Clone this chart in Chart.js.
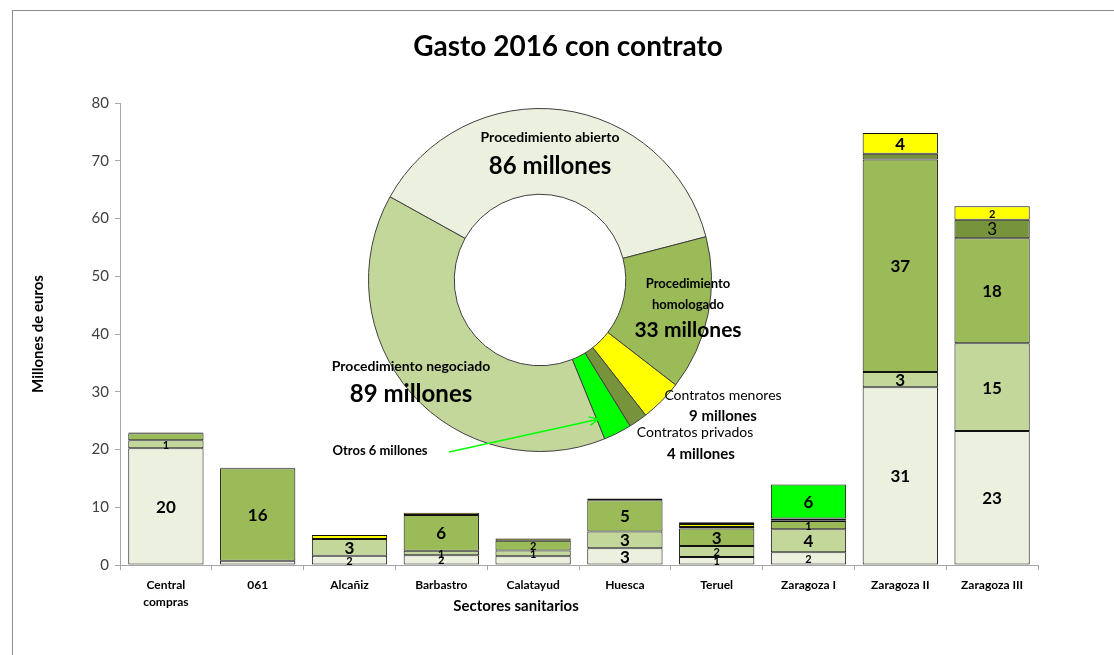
<!DOCTYPE html>
<html>
<head>
<meta charset="utf-8">
<title>Gasto 2016 con contrato</title>
<script src="https://cdn.jsdelivr.net/npm/chart.js@4.4.0/dist/chart.umd.min.js"></script>
<style>
  html, body { margin: 0; padding: 0; background: #fff; overflow: hidden; }
  #wrap { position: relative; width: 1114px; height: 655px; }
  #frame { position: absolute; left: 12px; top: 10px; width: 1200px; height: 700px;
           border: 1px solid #8c8c8c; box-sizing: border-box; }
  canvas { position: absolute; left: 0; top: 0; }
</style>
</head>
<body>
<div id="wrap">
  <div id="frame"></div>
  <canvas id="bars" width="1114" height="655"></canvas>
  <canvas id="ring" width="1114" height="655"></canvas>
</div>
<script>
// ---- Gasto por sector sanitario (millones de euros) ----
const sectores = [['Central', 'compras'], '061', 'Alcañiz', 'Barbastro', 'Calatayud',
                  'Huesca', 'Teruel', 'Zaragoza I', 'Zaragoza II', 'Zaragoza III'];
const abierto    = [20.2, 0.75, 1.6, 1.7, 1.5, 2.9, 1.4, 2.2, 30.8, 23.2];
const homologado = [1.4, null, 2.9, 0.75, 1.0, 2.9, 1.9, 4.0, 2.6, 15.2];
const negociado  = [1.2, 16.0, null, 6.2, 1.7, 5.4, 3.0, 1.4, 36.8, 18.2];
const privados   = [0.15, 0.1, null, null, null, null, 0.3, 0.15, 1.0, 3.2];
const menores    = [null, null, 0.7, 0.4, 0.4, 0.3, 0.5, 0.3, 3.6, 2.3];
const otros      = [null, null, null, null, null, null, 0.3, 5.9, null, null];
const yTicks     = [0, 10, 20, 30, 40, 50, 60, 70, 80];

// ---- Totales por tipo de contrato (millones de euros) ----
const tipos   = ['Procedimiento abierto', 'Procedimiento homologado', 'Contratos menores',
                 'Contratos privados', 'Otros', 'Procedimiento negociado'];
const totales = [86, 33, 9, 4, 6, 89];

// which segment values get a printed label: 0 none, 1 small, 2 large bold, 3 large regular
const labelStyle = {
  abierto:    [2, 0, 1, 1, 0, 2, 1, 1, 2, 2],
  homologado: [1, 0, 2, 1, 1, 2, 1, 2, 2, 2],
  negociado:  [0, 2, 0, 2, 1, 2, 2, 1, 2, 2],
  privados:   [0, 0, 0, 0, 0, 0, 0, 0, 0, 3],
  menores:    [0, 0, 0, 0, 0, 0, 0, 0, 2, 1],
  otros:      [0, 0, 0, 0, 0, 0, 0, 2, 0, 0]
};

const FONT = "Lato, 'Open Sans', sans-serif";
Chart.defaults.font.family = FONT;

// value labels inside each stacked segment
const segmentLabels = {
  id: 'segmentLabels',
  afterDatasetsDraw(chart) {
    const ctx = chart.ctx;
    ctx.save();
    ctx.textAlign = 'center';
    ctx.textBaseline = 'middle';
    ctx.fillStyle = '#000';
    chart.data.datasets.forEach((ds, di) => {
      const styles = labelStyle[ds.key];
      const meta = chart.getDatasetMeta(di);
      meta.data.forEach((bar, i) => {
        const v = ds.data[i];
        const st = styles[i];
        if (v == null || !st) return;
        if (st === 1) ctx.font = 'bold 11px ' + FONT;
        else if (st === 2) ctx.font = 'bold 17px ' + FONT;
        else ctx.font = 'normal 17px ' + FONT;
        ctx.fillText(String(Math.round(v)), bar.x, (bar.y + bar.base) / 2 + 1);
      });
    });
    ctx.restore();
  }
};

// chart title and horizontal axis caption
const captions = {
  id: 'captions',
  afterDraw(chart) {
    const ctx = chart.ctx;
    ctx.save();
    ctx.textAlign = 'center';
    ctx.textBaseline = 'middle';
    ctx.fillStyle = '#000';
    ctx.font = 'bold 28px ' + FONT;
    ctx.fillText('Gasto 2016 con contrato', 568, 47);
    ctx.font = 'bold 15px ' + FONT;
    ctx.fillText('Sectores sanitarios', 516, 606);
    ctx.restore();
  }
};

const mk = (key, data, color) => ({ key, data, backgroundColor: color, borderColor: '#111',
                                    borderWidth: 1, borderSkipped: false });

new Chart(document.getElementById('bars'), {
  type: 'bar',
  data: {
    labels: sectores,
    datasets: [
      mk('abierto', abierto, '#EBF1DE'),
      mk('homologado', homologado, '#C4D79B'),
      mk('negociado', negociado, '#9BBB59'),
      mk('privados', privados, '#77933C'),
      mk('menores', menores, '#FFFF00'),
      mk('otros', otros, '#00FF00')
    ]
  },
  options: {
    responsive: false,
    animation: false,
    events: [],
    layout: { padding: { left: 0, top: 103, right: 76, bottom: 0 } },
    datasets: { bar: { categoryPercentage: 1, barPercentage: 0.82 } },
    plugins: { legend: { display: false }, tooltip: { enabled: false }, title: { display: false } },
    scales: {
      x: {
        stacked: true,
        grid: { drawOnChartArea: false, tickLength: 5, color: '#a6a6a6', offset: true },
        border: { color: '#a6a6a6' },
        ticks: { color: '#000', font: { size: 12, weight: 'bold', lineHeight: 1.4 }, padding: 7,
                 maxRotation: 0, autoSkip: false },
        afterFit(s) { s.height = 90; }
      },
      y: {
        stacked: true,
        min: yTicks[0],
        max: yTicks[yTicks.length - 1],
        afterBuildTicks(s) { s.ticks = yTicks.map(v => ({ value: v })); },
        grid: { drawOnChartArea: false, tickLength: 5, color: '#a6a6a6' },
        border: { color: '#a6a6a6' },
        ticks: { color: '#404040', font: { size: 15 }, padding: 6 },
        title: { display: true, text: 'Millones de euros', color: '#000',
                 font: { size: 15, weight: 'bold' }, padding: { top: 29, bottom: 0 } },
        afterFit(s) { s.width = 120; }
      }
    }
  },
  plugins: [segmentLabels, captions]
});

// ---- doughnut with the totals, laid over the bar chart ----
const ringText = {
  id: 'ringText',
  afterDraw(chart) {
    const ctx = chart.ctx;
    const arcs = chart.getDatasetMeta(0).data;
    const cx = arcs[0].x, cy = arcs[0].y;
    const m = v => v + ' millones';
    const items = [
      [tipos[0], 10, -143, 'bold 14px'],
      [m(totales[0]), 10, -114, 'bold 24px'],
      ['Procedimiento', 148, 4, 'bold 13px'],
      ['homologado', 148, 25, 'bold 13px'],
      [m(totales[1]), 148, 50, 'bold 21px'],
      [tipos[5], -129, 86, 'bold 14px'],
      [m(totales[5]), -129, 114, 'bold 24px'],
      [tipos[2], 183, 115, 'normal 14px'],
      [m(totales[2]), 183, 136, 'bold 15px'],
      [tipos[3], 155, 152, 'normal 14px'],
      [m(totales[3]), 161, 174, 'bold 15px'],
      [tipos[4] + ' ' + m(totales[4]), -160, 171, 'bold 13px']
    ];
    ctx.save();
    ctx.textAlign = 'center';
    ctx.textBaseline = 'middle';
    ctx.fillStyle = '#000';
    items.forEach(([t, dx, dy, f]) => {
      ctx.font = f + ' ' + FONT;
      ctx.fillText(t, cx + dx, cy + dy);
    });
    // pointer from the "Otros" caption to its slice
    const a = arcs[4];
    const ang = a.endAngle - 0.01;
    const r = a.innerRadius + 0.76 * (a.outerRadius - a.innerRadius);
    const tx = a.x + r * Math.cos(ang), ty = a.y + r * Math.sin(ang);
    const sx = cx - 91, sy = cy + 172;
    ctx.strokeStyle = '#00FF00';
    ctx.lineWidth = 1.5;
    ctx.beginPath();
    ctx.moveTo(sx, sy);
    ctx.lineTo(tx, ty);
    const dir = Math.atan2(ty - sy, tx - sx);
    ctx.moveTo(tx - 10 * Math.cos(dir - 0.45), ty - 10 * Math.sin(dir - 0.45));
    ctx.lineTo(tx, ty);
    ctx.lineTo(tx - 10 * Math.cos(dir + 0.45), ty - 10 * Math.sin(dir + 0.45));
    ctx.stroke();
    ctx.restore();
  }
};

new Chart(document.getElementById('ring'), {
  type: 'doughnut',
  data: {
    labels: tipos,
    datasets: [{
      data: totales,
      backgroundColor: ['#EBF1DE', '#9BBB59', '#FFFF00', '#77933C', '#00FF00', '#C4D79B'],
      borderColor: '#404040',
      borderWidth: 1
    }]
  },
  options: {
    responsive: false,
    animation: false,
    events: [],
    rotation: -61,
    cutout: '50%',
    layout: { padding: { left: 368, top: 108, right: 402, bottom: 203 } },
    plugins: { legend: { display: false }, tooltip: { enabled: false } }
  },
  plugins: [ringText]
});
</script>
</body>
</html>
